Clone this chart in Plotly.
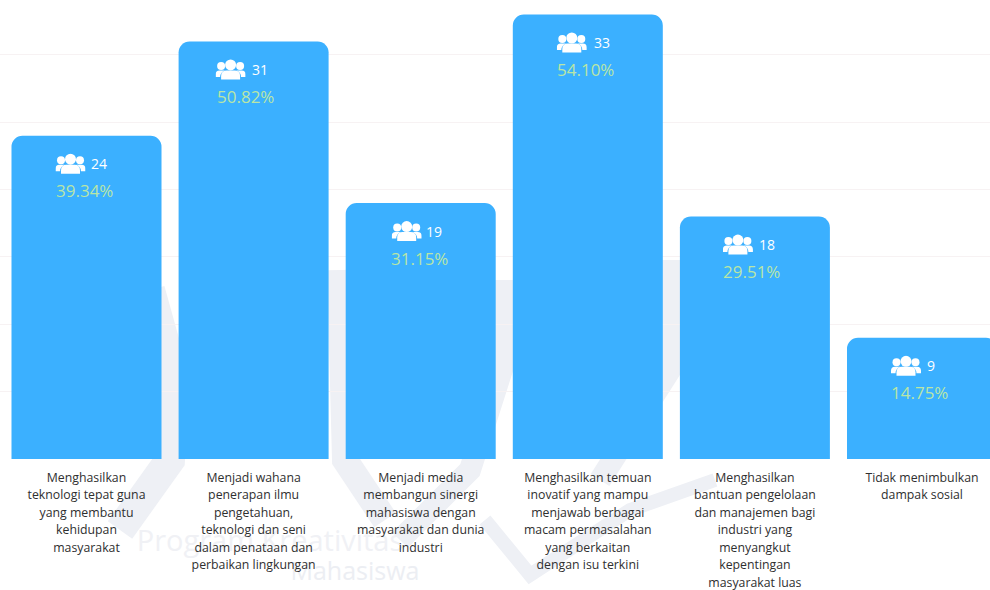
import base64
import plotly.graph_objects as go

categories = [
    "Menghasilkan<br>teknologi tepat guna<br>yang membantu<br>kehidupan<br>masyarakat",
    "Menjadi wahana<br>penerapan ilmu<br>pengetahuan,<br>teknologi dan seni<br>dalam penataan dan<br>perbaikan lingkungan",
    "Menjadi media<br>membangun sinergi<br>mahasiswa dengan<br>masyarakat dan dunia<br>industri",
    "Menghasilkan temuan<br>inovatif yang mampu<br>menjawab berbagai<br>macam permasalahan<br>yang berkaitan<br>dengan isu terkini",
    "Menghasilkan<br>bantuan pengelolaan<br>dan manajemen bagi<br>industri yang<br>menyangkut<br>kepentingan<br>masyarakat luas",
    "Tidak menimbulkan<br>dampak sosial",
]
counts = [24, 31, 19, 33, 18, 9]
percents = ["39.34%", "50.82%", "31.15%", "54.10%", "29.51%", "14.75%"]
grid_values = [5, 10, 15, 20, 25, 30]

positions = list(range(len(counts)))
# small per-column offsets (pixels) of the icon/count block and percent label
icon_nudge = [-16, -23, -14, -16, -17, -16]
count_nudge = [12, 6, 13, 14, 12, 9]
pct_nudge = [-2, -8, -1, -2, -3, -3]

PX_PER_X = 167.1
PX_PER_Y = 13.47
PLOT_H = 459

icon_svg = (
    '<svg xmlns="http://www.w3.org/2000/svg" viewBox="0 0 30 20">'
    '<g fill="#ffffff">'
    '<circle cx="15" cy="5.5" r="5.5"/>'
    '<circle cx="5.5" cy="6.5" r="4"/><circle cx="24.5" cy="6.5" r="4"/>'
    '<path d="M5.5 20 v-3.5 q0 -5.5 5.5 -5.5 h8 q5.5 0 5.5 5.5 v3.5z"/>'
    '<path d="M0 17.5 v-2.5 q0 -4 4 -4 h5 q-4.5 2 -4.5 6.5z"/>'
    '<path d="M30 17.5 v-2.5 q0 -4 -4 -4 h-5 q4.5 2 4.5 6.5z"/>'
    '</g></svg>'
)
icon_src = "data:image/svg+xml;base64," + base64.b64encode(icon_svg.encode()).decode()

fig = go.Figure(
    go.Bar(
        x=positions,
        y=counts,
        width=150 / PX_PER_X,
        marker=dict(color="#3bb0ff", cornerradius=11, line=dict(width=0)),
        hoverinfo="skip",
    )
)

images = []
annotations = []
for pos, cnt, pct, inudge, cnudge, pnudge in zip(
    positions, counts, percents, icon_nudge, count_nudge, pct_nudge
):
    images.append(dict(
        source=icon_src, xref="x", yref="y", layer="above",
        x=pos + inudge / PX_PER_X, y=cnt - 28 / PX_PER_Y,
        sizex=30 / PX_PER_X, sizey=21 / PX_PER_Y,
        xanchor="center", yanchor="middle", sizing="contain",
    ))
    annotations.append(dict(
        x=pos, y=cnt, xref="x", yref="y", text=str(cnt), showarrow=False,
        xshift=cnudge, yshift=-28, yanchor="middle",
        font=dict(family="Open Sans", size=14, color="#ffffff"),
    ))
    annotations.append(dict(
        x=pos, y=cnt, xref="x", yref="y", text=pct, showarrow=False,
        xshift=pnudge, yshift=-55, yanchor="middle",
        font=dict(family="Open Sans", size=17, color="#b9e6a6"),
    ))

WM = "#eef0f5"


def wm_path(points, width):
    d = "M " + " L ".join(f"{x / 990:.4f},{1 - y / PLOT_H:.4f}" for x, y in points)
    return dict(type="path", xref="paper", yref="paper", path=d, layer="below",
                line=dict(color=WM, width=width), fillcolor="rgba(0,0,0,0)")


def wm_text(text, cx, cy, size, color):
    return dict(
        type="rect", xref="paper", yref="paper", layer="below",
        x0=(cx - 150) / 990, x1=(cx + 150) / 990,
        y0=1 - (cy + 16) / PLOT_H, y1=1 - (cy - 16) / PLOT_H,
        line=dict(width=0), fillcolor="rgba(0,0,0,0)",
        label=dict(text=text, textposition="middle center",
                   font=dict(family="Open Sans", size=size, color=color)),
    )


shapes = [
    wm_path([(150, 290), (175, 380), (170, 460), (120, 530)], 30),
    wm_path([(340, 270), (345, 460), (385, 520)], 26),
    wm_path([(505, 280), (505, 360), (470, 470), (400, 540)], 22),
    wm_path([(670, 260), (670, 370), (600, 480)], 22),
    wm_path([(485, 520), (530, 575), (630, 510), (715, 480)], 14),
    wm_text("Program Kreativitas", 270, 541, 29, "#f0f1f5"),
    wm_text("Mahasiswa", 355, 572, 25, "#eceef3"),
]

fig.update_layout(
    width=990,
    height=590,
    autosize=False,
    margin=dict(l=0, r=0, t=0, b=131),
    paper_bgcolor="#ffffff",
    plot_bgcolor="rgba(0,0,0,0)",
    showlegend=False,
    images=images,
    annotations=annotations,
    shapes=shapes,
    xaxis=dict(
        range=[-86.5 / PX_PER_X, (990 - 86.5) / PX_PER_X],
        tickmode="array",
        tickvals=positions,
        ticktext=[
            "<br>".join(f'<span style="font-size:12.3px">{ln}</span>' for ln in c.split("<br>"))
            for c in categories
        ],
        tickangle=0,
        tickfont=dict(family="Open Sans", size=13.5, color="#2f2f2f"),
        ticks="",
        showgrid=False,
        zeroline=False,
        showline=False,
        ticklabelstandoff=8,
    ),
    yaxis=dict(
        range=[0, 459 / PX_PER_Y],
        tickmode="array",
        tickvals=grid_values,
        showticklabels=False,
        ticks="",
        showgrid=True,
        gridcolor="#f7f2f3",
        gridwidth=1,
        zeroline=False,
        showline=False,
    ),
)

fig.write_html(
    "out.html",
    config={"displayModeBar": False},
    post_script="document.body.style.margin='0';",
)
